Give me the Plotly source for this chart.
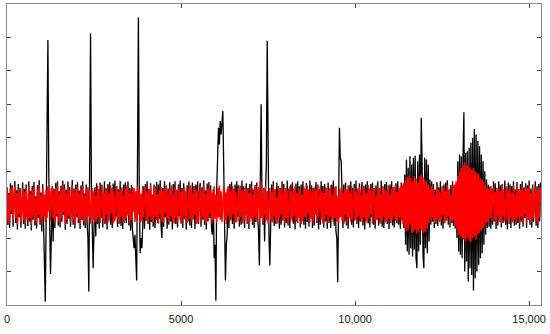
import plotly.graph_objects as go

SAMPLE_STEP = 25  # x units between consecutive samples

black_y = [
    0.52, -0.61, 0.35, -0.7, 0.64, -0.28, 0.58, -0.66, 0.2, 0.71,
    -0.55, 0.43, -0.74, 0.62, -0.38, 0.5, -0.69, 0.3, 0.66, -0.58,
    0.47, -0.72, 0.6, -0.33, -0.64, 0.7, -0.5, 0.41, -0.77, 0.56,
    -0.45, 0.68, -0.62, 0.25, -0.71, 0.59, -0.4, 0.73, -0.6, 0.36,
    -0.8, 0.62, -0.48, -1.2, -2.9, -0.4, 2.5, 4.92, 1.0, -0.6,
    -2.07, -0.9, 0.55, -1.1, 0.48, -0.7, 0.65, -0.35, 0.7, -0.63,
    0.4, -0.68, 0.57, -0.52, 0.72, -0.3, 0.61, -0.75, 0.45, -0.58,
    0.69, -0.42, 0.53, -0.66, 0.3, 0.74, -0.6, 0.48, -0.71, 0.6,
    -0.37, 0.67, -0.55, 0.42, -0.73, 0.58, -0.46, 0.7, -0.62, 0.33,
    -0.7, 0.6, -0.5, -1.0, -2.6, 1.2, 5.12, 0.5, -0.8, -1.9,
    -0.7, 0.52, -0.95, 0.64, -0.58, 0.45, -0.72, 0.66, -0.4, 0.57,
    -0.68, 0.35, 0.7, -0.56, 0.48, -0.74, 0.62, -0.43, 0.68, -0.6,
    0.28, -0.7, 0.63, -0.5, 0.72, -0.36, 0.55, -0.67, 0.46, -0.57,
    0.71, -0.64, 0.4, -0.73, 0.6, -0.45, 0.66, -0.55, 0.32, 0.69,
    -0.62, 0.5, -0.78, 0.58, -0.7, -1.0, -1.3, -0.9, -1.5, -2.27,
    1.5, 5.6, 0.2, -1.45, -1.0, -1.3, -0.6, 0.55, -0.72, 0.62,
    -0.48, 0.7, -0.58, 0.4, -0.75, 0.64, -0.52, 0.3, -0.66, 0.6,
    -0.7, 0.45, 0.68, -0.55, 0.6, -0.42, 0.73, -0.62, -1.0, 0.5,
    -0.66, 0.7, -0.38, 0.57, -0.72, 0.48, -0.6, 0.67, -0.5, 0.35,
    -0.74, 0.62, -0.45, 0.7, -0.58, 0.42, -0.68, 0.6, -0.33, 0.72,
    -0.56, 0.5, -0.7, 0.64, -0.42, 0.3, -0.75, 0.58, -0.5, 0.69,
    -0.62, 0.44, -0.7, 0.66, -0.36, 0.56, -0.73, 0.6, -0.48, 0.7,
    -0.58, 0.38, 0.65, -0.66, 0.52, -0.45, 0.72, -0.6, 0.42, -0.74,
    0.63, -0.5, 0.68, -0.4, 0.57, -0.7, -0.9, 0.45, -1.6, -1.2,
    -2.87, 0.5, 1.9, 2.3, 1.8, 2.5, 2.1, 2.6, 2.8, 1.2,
    -0.8, -2.27, -1.2, -0.9, 0.55, -0.7, 0.62, -0.45, 0.68, -0.58,
    0.4, -0.72, 0.6, -0.5, 0.7, -0.36, 0.58, -0.66, 0.47, -0.6,
    0.72, -0.44, 0.55, -0.7, 0.3, 0.64, -0.58, 0.5, -0.73, 0.62,
    -0.4, 0.69, -0.6, 0.45, -0.7, 0.58, -0.52, 0.66, -0.36, -0.8,
    -1.82, 0.3, 3.0, 0.2, -0.6, 0.5, -1.1, 0.4, 1.2, 4.9,
    0.4, -0.9, -1.82, -0.7, 0.6, -0.52, 0.7, -0.64, 0.42, -0.58,
    0.66, -0.35, 0.56, -0.72, 0.5, -0.6, 0.7, -0.45, 0.62, -0.68,
    0.3, -0.55, 0.72, -0.62, 0.48, -0.7, 0.6, -0.4, 0.67, -0.57,
    0.44, -0.74, 0.63, -0.5, 0.7, -0.33, 0.55, -0.68, 0.6, -0.46,
    0.7, -0.6, 0.38, -0.72, 0.65, -0.52, 0.45, -0.66, 0.72, -0.4,
    0.58, -0.7, 0.5, -0.62, 0.3, 0.68, -0.55, 0.6, -0.74, 0.47,
    -0.6, 0.7, -0.42, 0.56, -0.68, 0.62, -0.5, 0.35, -0.72, 0.66,
    -0.55, 0.48, -0.7, 0.6, -0.4, 0.72, -0.63, 0.52, -0.8, -1.0,
    -2.32, 0.2, 2.3, 1.4, 1.3, 0.4, -0.7, 0.6, -0.5, 0.66,
    -0.62, 0.45, -0.72, 0.58, -0.36, 0.7, -0.6, 0.5, -0.68, 0.62,
    -0.45, 0.72, -0.58, 0.4, -0.7, 0.64, -0.5, 0.3, 0.68, -0.62,
    0.55, -0.74, 0.6, -0.42, 0.7, -0.56, 0.48, -0.68, 0.62, -0.38,
    0.66, -0.6, 0.5, -0.72, 0.58, -0.45, 0.7, -0.63, 0.4, -0.55,
    0.72, -0.66, 0.35, -0.7, 0.62, -0.5, 0.68, -0.58, 0.45, -0.73,
    0.6, -0.4, 0.7, -0.62, 0.52, -0.68, 0.3, 0.64, -0.56, 0.7,
    -0.6, 0.48, -0.72, 0.66, -0.45, 0.58, -0.7, 0.9, -1.2, 1.35,
    -1.4, 1.1, -1.5, 1.45, -1.3, 1.2, -1.55, 1.4, -1.35, 1.46,
    -1.6, -1.9, 1.3, -1.4, 1.5, -1.2, 2.6, 1.2, -1.5, -1.9,
    1.4, -1.3, 1.35, -1.45, 1.2, -1.1, 0.75, -0.6, 0.7, -0.5,
    0.62, -0.7, 0.45, -0.58, 0.68, -0.64, 0.52, -0.4, 0.7, -0.62,
    0.35, -0.72, 0.6, -0.5, 0.66, -0.45, 0.73, -0.6, 0.42, -0.68,
    0.58, -0.55, 0.7, -0.64, 0.5, -0.72, 0.62, -1.0, 1.3, -1.4,
    1.5, -1.5, 1.45, -1.6, 1.4, 2.76, -2.0, 1.55, -1.7, 1.6,
    -2.3, 1.7, -1.9, 1.85, -2.1, 2.0, -2.57, 2.26, -2.2, 2.1,
    -2.0, 1.9, -1.8, 1.75, -1.6, 1.5, -1.45, 1.3, -1.2, 1.0,
    -0.9, 0.75, -0.7, 0.6, -0.66, 0.55, -0.72, 0.48, -0.6, 0.7,
    -0.5, 0.64, -0.73, 0.4, -0.62, 0.7, -0.45, 0.58, -0.68, 0.62,
    -0.55, 0.3, 0.72, -0.6, 0.5, -0.74, 0.66, -0.42, 0.6, -0.7,
    0.56, -0.48, 0.7, -0.63, 0.45, -0.6, 0.68, -0.55, 0.38, -0.72,
    0.62, -0.5, 0.7, -0.66, 0.52, -0.4, 0.64, -0.7, 0.58, -0.45,
    0.72, -0.6, 0.48, -0.68, 0.6, -0.52, 0.35, 0.7, -0.63, 0.55,
    -0.7, 0.62, -0.5, 0.66,
]

red_y = [
    0.42, -0.5, 0.3, -0.56, 0.48, -0.2, 0.52, -0.45, 0.15, 0.55,
    -0.4, 0.35, -0.58, 0.47, -0.3, 0.4, -0.52, 0.22, 0.5, -0.46,
    0.38, -0.55, 0.5, -0.25, -0.48, 0.56, -0.38, 0.33, -0.6, 0.45,
    -0.35, 0.52, -0.5, 0.18, -0.55, 0.46, -0.3, 0.58, -0.47, 0.28,
    -0.57, 0.48, -0.36, 0.3, -0.52, 0.44, -0.4, 0.55, -0.2, 0.5,
    -0.48, 0.36, 0.54, -0.42, 0.4, -0.56, 0.5, -0.28, 0.57, -0.5,
    0.32, -0.53, 0.45, -0.4, 0.58, -0.22, 0.48, -0.6, 0.36, -0.45,
    0.55, -0.33, 0.42, -0.52, 0.2, 0.58, -0.48, 0.38, -0.56, 0.47,
    -0.3, 0.53, -0.45, 0.33, -0.58, 0.46, -0.36, 0.56, -0.5, 0.25,
    -0.55, 0.47, -0.4, 0.52, -0.35, 0.44, -0.57, 0.3, 0.5, -0.46,
    0.4, -0.52, 0.28, -0.48, 0.56, -0.38, 0.47, -0.55, 0.22, 0.6,
    -0.45, 0.36, -0.58, 0.5, -0.3, 0.43, -0.54, 0.35, -0.47, 0.57,
    -0.25, 0.5, -0.56, 0.4, -0.48, 0.3, 0.55, -0.44, 0.38, -0.58,
    0.46, -0.35, 0.52, -0.5, 0.27, -0.55, 0.48, -0.4, 0.58, -0.32,
    0.44, -0.57, 0.36, -0.46, 0.53, -0.22, 0.5, -0.52, 0.4, -0.47,
    0.57, -0.3, 0.45, -0.55, 0.33, -0.5, 0.56, -0.38, 0.2, 0.52,
    -0.48, 0.4, -0.56, 0.47, -0.35, 0.58, -0.45, 0.28, -0.53, 0.5,
    -0.38, 0.55, -0.46, 0.32, -0.57, 0.44, -0.3, 0.52, -0.5, 0.4,
    -0.55, 0.48, -0.25, 0.56, -0.42, 0.36, -0.52, 0.46, -0.35, 0.58,
    -0.47, 0.3, -0.56, 0.5, -0.4, 0.45, -0.53, 0.22, 0.55, -0.44,
    0.38, -0.58, 0.48, -0.33, 0.52, -0.46, 0.4, -0.55, 0.28, 0.5,
    -0.42, 0.57, -0.5, 0.35, -0.45, 0.53, -0.3, 0.46, -0.58, 0.4,
    -0.52, 0.27, 0.55, -0.47, 0.43, -0.36, 0.58, -0.5, 0.32, -0.55,
    0.48, -0.4, 0.52, -0.28, 0.45, -0.56, 0.36, -0.46, 0.55, -0.42,
    0.3, -0.53, 0.5, -0.38, 0.57, -0.45, 0.4, -0.52, 0.22, 0.55,
    -0.47, 0.36, -0.58, 0.46, -0.33, 0.52, -0.5, 0.42, -0.4, 0.56,
    -0.3, 0.48, -0.55, 0.38, -0.52, 0.25, 0.5, -0.45, 0.57, -0.36,
    0.44, -0.56, 0.4, -0.48, 0.53, -0.3, 0.47, -0.58, 0.35, -0.5,
    0.55, -0.42, 0.3, -0.54, 0.48, -0.38, 0.58, -0.46, 0.26, 0.52,
    -0.5, 0.72, -0.4, 0.35, -0.55, 0.46, -0.32, 0.56, -0.48, 0.4,
    -0.57, 0.3, 0.5, -0.44, 0.38, -0.53, 0.55, -0.36, 0.47, -0.5,
    0.22, -0.56, 0.52, -0.4, 0.45, -0.3, 0.57, -0.48, 0.36, -0.55,
    0.5, -0.38, 0.43, -0.58, 0.28, 0.55, -0.45, 0.4, -0.52, 0.48,
    -0.33, 0.56, -0.47, 0.35, -0.55, 0.5, -0.4, 0.46, -0.58, 0.3,
    -0.5, 0.55, -0.36, 0.48, -0.44, 0.57, -0.25, 0.42, -0.53, 0.5,
    -0.42, 0.38, -0.56, 0.52, -0.3, 0.47, -0.5, 0.58, -0.38, 0.2,
    0.55, -0.46, 0.4, -0.57, 0.35, -0.48, 0.53, -0.32, 0.5, -0.55,
    0.44, -0.36, 0.57, -0.45, 0.3, -0.52, 0.48, -0.4, 0.56, -0.5,
    0.27, -0.55, 0.46, -0.38, 0.52, -0.47, 0.35, -0.58, 0.5, -0.3,
    0.45, -0.53, 0.58, -0.4, 0.36, -0.5, 0.55, -0.44, 0.22, 0.5,
    -0.47, 0.4, -0.56, 0.48, -0.33, 0.54, -0.45, 0.3, -0.52, 0.57,
    -0.38, 0.46, -0.55, 0.35, -0.5, 0.58, -0.42, 0.44, -0.3, 0.52,
    -0.56, 0.38, 0.47, -0.5, 0.28, -0.45, 0.55, -0.4, 0.5, -0.57,
    0.33, -0.48, 0.56, -0.36, 0.45, -0.53, 0.4, -0.5, 0.58, -0.42,
    0.3, -0.55, 0.48, -0.46, 0.52, -0.35, 0.57, -0.47, 0.38, -0.52,
    0.5, -0.4, 0.55, -0.48, 0.6, -0.58, 0.65, -0.7, 0.75, -0.8,
    0.82, -0.76, 0.88, -0.6, 0.8, -0.85, 0.7, -0.82, 0.86, -0.75,
    0.78, -0.88, 0.65, -0.8, 0.85, -0.72, 0.9, -0.78, 0.82, -0.85,
    0.75, -0.8, 0.7, -0.72, 0.6, -0.55, 0.5, -0.45, 0.56, -0.38,
    0.47, -0.55, 0.3, -0.5, 0.57, -0.42, 0.45, -0.52, 0.36, -0.47,
    0.55, -0.33, 0.5, -0.56, 0.4, -0.48, 0.58, -0.35, 0.46, -0.53,
    0.3, -0.5, 0.55, -0.45, 0.6, -0.62, 0.7, -0.75, 0.85, -0.9,
    1.0, -0.95, 1.1, -1.0, 1.2, -1.05, 1.27, -1.1, 1.15, -1.0,
    1.2, -1.08, 1.1, -1.12, 1.05, -1.0, 1.1, -0.95, 1.0, -1.05,
    0.95, -0.9, 0.92, -0.85, 0.8, -0.78, 0.75, -0.7, 0.68, -0.65,
    0.6, -0.55, 0.5, -0.52, 0.45, -0.4, 0.56, -0.47, 0.3, 0.52,
    -0.45, 0.38, -0.57, 0.5, -0.33, 0.47, -0.52, 0.4, -0.55, 0.58,
    -0.36, 0.45, -0.5, 0.28, 0.55, -0.47, 0.42, -0.58, 0.5, -0.4,
    0.36, -0.53, 0.57, -0.44, 0.3, -0.5, 0.52, -0.38, 0.47, -0.56,
    0.45, -0.35, 0.55, -0.5, 0.4, -0.27, 0.52, -0.55, 0.48, -0.42,
    0.58, -0.47, 0.35, -0.52, 0.5, -0.4, 0.2, 0.55, -0.5, 0.44,
    -0.56, 0.5, -0.38, 0.52,
]

x_tick_vals = [0, 5000, 10000, 15000]
x_tick_text = ["0", "5000", "10,000", "15,000"]
y_tick_vals = [-3, -2, -1, 0, 1, 2, 3, 4, 5, 6]

x_black = [i * SAMPLE_STEP for i in range(len(black_y))]
x_red = [i * SAMPLE_STEP for i in range(len(red_y))]

fig = go.Figure()
fig.add_trace(go.Scatter(x=x_black, y=black_y, mode="lines",
                         line=dict(color="#000000", width=1.3), hoverinfo="skip"))
fig.add_trace(go.Scatter(x=x_red, y=red_y, mode="lines",
                         line=dict(color="#ff0000", width=1.5), hoverinfo="skip"))

fig.update_layout(
    width=550, height=334,
    margin=dict(l=7, r=9, t=4, b=29),
    paper_bgcolor="white", plot_bgcolor="white",
    showlegend=False,
    font=dict(family="Liberation Sans, Arial, sans-serif", size=11, color="#222222"),
)
fig.update_xaxes(
    range=[0, 15340], tickvals=x_tick_vals, ticktext=x_tick_text,
    ticks="inside", ticklen=4, tickcolor="#444444", tickwidth=1,
    showline=True, linecolor="#8a8a8a", linewidth=1, mirror="ticks",
    showgrid=False, zeroline=False, ticklabelstandoff=4,
)
fig.update_yaxes(
    range=[-3, 6], tickvals=y_tick_vals, showticklabels=False,
    ticks="inside", ticklen=4, tickcolor="#444444", tickwidth=1,
    showline=True, linecolor="#8a8a8a", linewidth=1, mirror="ticks",
    showgrid=False, zeroline=False,
)

fig.write_html("out.html", config={"displayModeBar": False},
               post_script="document.body.style.margin='0';")
